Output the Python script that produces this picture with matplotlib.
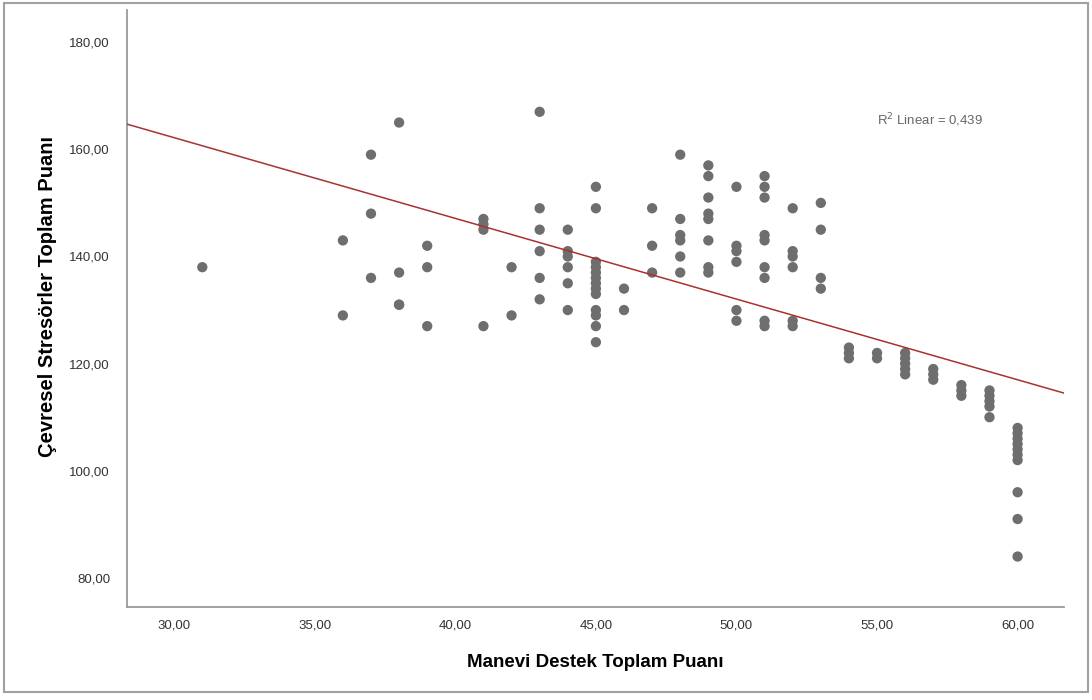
import numpy as np
import matplotlib.pyplot as plt
from matplotlib.patches import Rectangle
from matplotlib.ticker import FuncFormatter

# Manevi Destek Toplam Puani (x) -> Cevresel Stresorler Toplam Puani (y)
manevi = [31,
          36, 36,
          37, 37, 37,
          38, 38, 38, 38,
          39, 39, 39,
          41, 41, 41, 41,
          42, 42,
          43, 43, 43, 43, 43, 43,
          44, 44, 44, 44, 44, 44,
          45, 45, 45, 45, 45, 45, 45, 45, 45, 45, 45, 45, 45,
          46, 46,
          47, 47, 47,
          48, 48, 48, 48, 48, 48,
          49, 49, 49, 49, 49, 49, 49, 49,
          50, 50, 50, 50, 50, 50,
          51, 51, 51, 51, 51, 51, 51, 51, 51,
          52, 52, 52, 52, 52, 52,
          53, 53, 53, 53,
          54, 54, 54,
          55, 55,
          56, 56, 56, 56, 56,
          57, 57, 57,
          58, 58, 58,
          59, 59, 59, 59, 59,
          60, 60, 60, 60, 60, 60, 60, 60, 60, 60]
cevresel = [138,
            143, 129,
            159, 148, 136,
            165, 137, 131, 131,
            142, 138, 127,
            147, 146, 145, 127,
            138, 129,
            167, 149, 145, 141, 136, 132,
            145, 141, 140, 138, 135, 130,
            153, 149, 139, 138, 137, 136, 135, 134, 133, 130, 129, 127, 124,
            134, 130,
            149, 142, 137,
            159, 147, 144, 143, 140, 137,
            157, 155, 151, 148, 147, 143, 138, 137,
            153, 142, 141, 139, 130, 128,
            155, 153, 151, 144, 143, 138, 136, 128, 127,
            149, 141, 140, 138, 128, 127,
            150, 145, 136, 134,
            123, 122, 121,
            122, 121,
            122, 121, 120, 119, 118,
            119, 118, 117,
            116, 115, 114,
            115, 114, 113, 112, 110,
            108, 107, 106, 105, 104, 103, 102, 96, 91, 84]

# fit line (R2 = 0,439)
fit_intercept = 207.35
fit_slope = -1.506
r2_text = "R$^2$ Linear = 0,439"

x_ticks = [30, 35, 40, 45, 50, 55, 60]
y_ticks = [80, 100, 120, 140, 160, 180]

plt.rcParams['font.family'] = ['Liberation Sans', 'DejaVu Sans']

fig = plt.figure(figsize=(10.92, 7.0), dpi=100)
ax = fig.add_axes([0.116, 0.133, 0.8586, 0.8527])

ax.scatter(manevi, cevresel, s=55, color='#6e6e6e', edgecolors='none', zorder=3)

xlim = (28.31, 61.66)
xs = np.array(xlim)
ax.plot(xs, fit_intercept + fit_slope * xs, color='#a83232', lw=1.1, zorder=4)

ax.set_xlim(*xlim)
ax.set_ylim(74.6, 186.0)
ax.set_xticks(x_ticks)
ax.set_yticks(y_ticks)
fmt = FuncFormatter(lambda v, p: ("%.2f" % v).replace('.', ','))
ax.xaxis.set_major_formatter(fmt)
ax.yaxis.set_major_formatter(fmt)
ax.tick_params(length=0, labelsize=9.5, labelcolor='#333333')
ax.tick_params(axis='x', pad=9)
ax.tick_params(axis='y', pad=12)

for s in ['top', 'right']:
    ax.spines[s].set_visible(False)
for s in ['left', 'bottom']:
    ax.spines[s].set_color('#9a9a9a')
    ax.spines[s].set_linewidth(1.3)

ax.set_xlabel("Manevi Destek Toplam Puanı", fontsize=13.5, fontweight='bold', labelpad=16)
ax.set_ylabel("Çevresel Stresörler Toplam Puanı", fontsize=14.5, fontweight='bold', labelpad=10)
ax.yaxis.set_label_coords(-0.074, 0.52)

ax.text(0.8565, 0.8155, r2_text, transform=ax.transAxes, fontsize=9.5, color='#666666',
        ha='center', va='center')

fig.patches.append(Rectangle((4 / 1092, 8 / 700), 1084 / 1092, 689 / 700, transform=fig.transFigure,
                             fill=False, edgecolor='#a0a0a0', lw=1.5))

fig.savefig('out.png', dpi=100)
